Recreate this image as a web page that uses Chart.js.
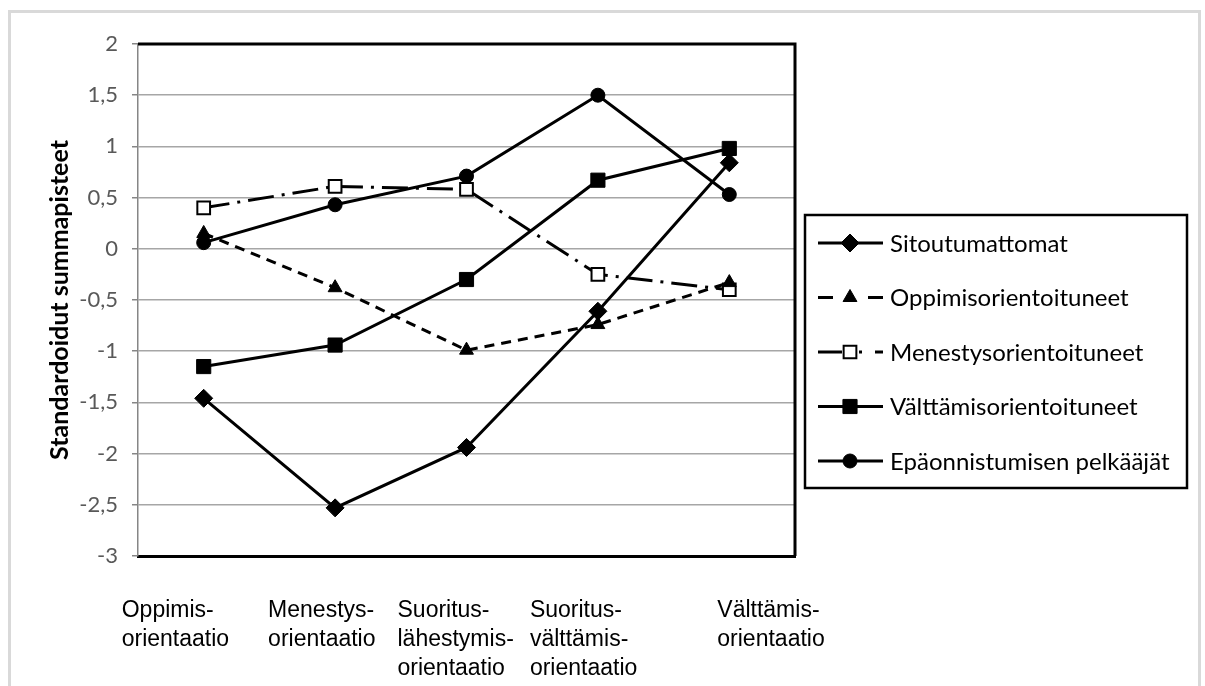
<!DOCTYPE html>
<html>
<head>
<meta charset="utf-8">
<script src="https://cdn.jsdelivr.net/npm/chart.js@4.4.1/dist/chart.umd.min.js"></script>
<style>
  html, body { margin: 0; padding: 0; background: #fff; }
  #wrap { width: 1205px; height: 686px; position: relative; }
</style>
</head>
<body>
<div id="wrap"><canvas id="c" width="1205" height="686"></canvas></div>
<script>
// Orientation categories (multi-line x labels)
const categories = [
  ['Oppimis-', 'orientaatio'],
  ['Menestys-', 'orientaatio'],
  ['Suoritus-', 'lähestymis-', 'orientaatio'],
  ['Suoritus-', 'välttämis-', 'orientaatio'],
  ['Välttämis-', 'orientaatio']
];

// Group names
const seriesNames = [
  'Sitoutumattomat',
  'Oppimisorientoituneet',
  'Menestysorientoituneet',
  'Välttämisorientoituneet',
  'Epäonnistumisen pelkääjät'
];

// Standardised sum scores per group
const sitoutumattomat          = [-1.46, -2.53, -1.94, -0.61, 0.84];
const oppimisorientoituneet    = [0.15, -0.38, -0.99, -0.74, -0.33];
const menestysorientoituneet   = [0.40, 0.61, 0.58, -0.25, -0.40];
const valttamisorientoituneet  = [-1.15, -0.94, -0.30, 0.67, 0.98];
const epaonnistumisenPelkaajat = [0.06, 0.43, 0.71, 1.50, 0.53];

// Y axis tick values
const yTicks = [2, 1.5, 1, 0.5, 0, -0.5, -1, -1.5, -2, -2.5, -3];

// Horizontal placement of each category label block relative to its category centre
const xLabelShift = [-82, -67, -69, -68, -12];

const BLACK = '#000000';

const datasets = [
  {
    label: seriesNames[0], data: sitoutumattomat,
    borderColor: BLACK, borderWidth: 3,
    pointStyle: 'rectRot', pointRadius: 9,
    pointBackgroundColor: BLACK, pointBorderColor: BLACK, pointBorderWidth: 1
  },
  {
    label: seriesNames[1], data: oppimisorientoituneet,
    borderColor: BLACK, borderWidth: 3, borderDash: [10, 7],
    pointStyle: 'triangle', pointRadius: 8,
    pointBackgroundColor: BLACK, pointBorderColor: BLACK, pointBorderWidth: 1
  },
  {
    label: seriesNames[2], data: menestysorientoituneet,
    borderColor: BLACK, borderWidth: 3, borderDash: [26, 8, 3, 8],
    pointStyle: 'rect', pointRadius: 9,
    pointBackgroundColor: '#ffffff', pointBorderColor: BLACK, pointBorderWidth: 2
  },
  {
    label: seriesNames[3], data: valttamisorientoituneet,
    borderColor: BLACK, borderWidth: 3,
    pointStyle: 'rect', pointRadius: 10,
    pointBackgroundColor: BLACK, pointBorderColor: BLACK, pointBorderWidth: 1
  },
  {
    label: seriesNames[4], data: epaonnistumisenPelkaajat,
    borderColor: BLACK, borderWidth: 3,
    pointStyle: 'circle', pointRadius: 7,
    pointBackgroundColor: BLACK, pointBorderColor: BLACK, pointBorderWidth: 1
  }
].map(d => Object.assign({ fill: false, tension: 0, pointHoverRadius: d.pointRadius }, d));

// Dash patterns of the short legend samples
const legendDash = [[], [15, 35, 15], [24, 17, 3, 13, 10], [], []];

// Marker drawing shared by legend
function drawMarker(ctx, ds, x, y) {
  ctx.save();
  ctx.setLineDash([]);
  ctx.fillStyle = ds.pointBackgroundColor;
  ctx.strokeStyle = ds.pointBorderColor;
  ctx.lineWidth = ds.pointBorderWidth;
  if (Chart.helpers && Chart.helpers.drawPoint) {
    Chart.helpers.drawPoint(ctx, {
      pointStyle: ds.pointStyle, rotation: 0,
      radius: ds.pointRadius, borderWidth: ds.pointBorderWidth
    }, x, y);
  } else {
    const r = ds.pointRadius;
    ctx.beginPath();
    if (ds.pointStyle === 'circle') ctx.arc(x, y, r, 0, Math.PI * 2);
    else if (ds.pointStyle === 'rect') { const s = r * Math.SQRT1_2; ctx.rect(x - s, y - s, 2 * s, 2 * s); }
    else if (ds.pointStyle === 'rectRot') { ctx.moveTo(x, y - r); ctx.lineTo(x + r, y); ctx.lineTo(x, y + r); ctx.lineTo(x - r, y); ctx.closePath(); }
    else if (ds.pointStyle === 'triangle') { ctx.moveTo(x, y - r); ctx.lineTo(x + r * 0.866, y + r * 0.5); ctx.lineTo(x - r * 0.866, y + r * 0.5); ctx.closePath(); }
    ctx.fill();
    ctx.stroke();
  }
  ctx.restore();
}

// Background, outer frame and plot-area frame
const framePlugin = {
  id: 'frame',
  beforeDraw(chart) {
    const ctx = chart.ctx;
    ctx.save();
    ctx.fillStyle = '#ffffff';
    ctx.fillRect(0, 0, chart.width, chart.height);
    ctx.strokeStyle = '#d9d9d9';
    ctx.lineWidth = 3;
    ctx.strokeRect(9.5, 11.5, 1190, 700);
    ctx.restore();
  },
  beforeDatasetsDraw(chart) {
    const { ctx, chartArea: a } = chart;
    ctx.save();
    ctx.strokeStyle = BLACK;
    ctx.lineWidth = 3;
    ctx.beginPath();
    ctx.moveTo(a.left, a.top);
    ctx.lineTo(a.right, a.top);
    ctx.lineTo(a.right, a.bottom);
    ctx.stroke();
    ctx.restore();
  }
};

// Category labels, left-aligned blocks under the axis
const xLabelPlugin = {
  id: 'xLabels',
  afterDraw(chart) {
    const { ctx, chartArea: a } = chart;
    const xs = chart.scales.x;
    ctx.save();
    ctx.fillStyle = BLACK;
    ctx.font = '23px "Liberation Sans", Arial, sans-serif';
    ctx.textAlign = 'left';
    ctx.textBaseline = 'middle';
    categories.forEach((lines, i) => {
      const left = xs.getPixelForValue(i) + xLabelShift[i];
      lines.forEach((t, j) => ctx.fillText(t, left, a.bottom + 55 + j * 29));
    });
    ctx.restore();
  }
};

// Boxed legend with line samples and markers
const legendPlugin = {
  id: 'boxLegend',
  afterDraw(chart) {
    const ctx = chart.ctx;
    const box = { x: 805, y: 215, w: 382, h: 273 };
    ctx.save();
    ctx.fillStyle = '#ffffff';
    ctx.fillRect(box.x, box.y, box.w, box.h);
    ctx.strokeStyle = BLACK;
    ctx.lineWidth = 2.5;
    ctx.strokeRect(box.x, box.y, box.w, box.h);
    chart.data.datasets.forEach((ds, i) => {
      const cy = box.y + 28 + i * 54.5;
      const x0 = box.x + 13, x1 = box.x + 78, mx = box.x + 45;
      ctx.save();
      ctx.strokeStyle = ds.borderColor;
      ctx.lineWidth = ds.borderWidth;
      ctx.setLineDash(legendDash[i]);
      ctx.beginPath();
      ctx.moveTo(x0, cy);
      ctx.lineTo(x1, cy);
      ctx.stroke();
      ctx.restore();
      drawMarker(ctx, ds, mx, cy);
      ctx.fillStyle = BLACK;
      ctx.font = '24px Lato, "Open Sans", sans-serif';
      ctx.textAlign = 'left';
      ctx.textBaseline = 'middle';
      ctx.fillText(ds.label, box.x + 85, cy + 1);
    });
    ctx.restore();
  }
};

new Chart(document.getElementById('c'), {
  type: 'line',
  data: { labels: categories, datasets },
  options: {
    responsive: false,
    animation: false,
    devicePixelRatio: 1,
    layout: { padding: { top: 44, right: 410, left: 0, bottom: 0 } },
    plugins: {
      legend: { display: false },
      tooltip: { enabled: false }
    },
    scales: {
      x: {
        type: 'category',
        offset: true,
        grid: { display: false, drawTicks: false, offset: true },
        border: { display: true, color: BLACK, width: 3 },
        ticks: { display: false },
        afterFit(scale) { scale.height = 130; }
      },
      y: {
        min: -3, max: 2,
        afterBuildTicks(scale) { scale.ticks = yTicks.map(v => ({ value: v })); },
        grid: { color: '#a6a6a6', lineWidth: 1.5, drawTicks: true, tickLength: 6, tickColor: '#868686', tickWidth: 1.5 },
        border: { display: true, color: '#868686', width: 1.5 },
        ticks: {
          color: '#595959',
          padding: 14,
          font: { family: 'Lato, "Open Sans", sans-serif', size: 22 },
          callback: v => String(v).replace('.', ',')
        },
        title: {
          display: true,
          text: 'Standardoidut summapisteet',
          color: BLACK,
          font: { family: 'Lato, "Open Sans", sans-serif', size: 25, weight: 'bold' },
          padding: { top: 45, bottom: 0 }
        },
        afterFit(scale) { scale.width = 138; }
      }
    }
  },
  plugins: [framePlugin, xLabelPlugin, legendPlugin]
});
</script>
</body>
</html>
